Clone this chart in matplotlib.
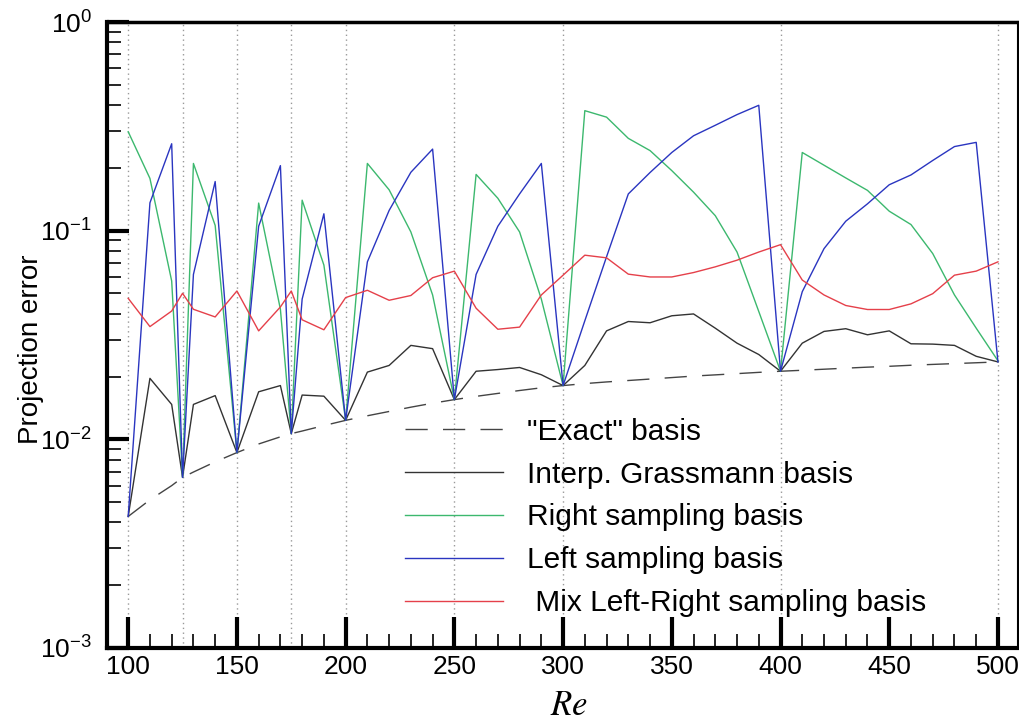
import numpy as np
import matplotlib
matplotlib.use('Agg')
import matplotlib.pyplot as plt
import matplotlib.ticker as ticker

plt.rcParams['font.family'] = ['Liberation Sans', 'DejaVu Sans']
plt.rcParams['mathtext.fontset'] = 'stix'
plt.rcParams['mathtext.default'] = 'regular'

# Reynolds numbers (sampled at 100,125,150,175,200,250,300,400,500)
re = [100, 110, 120, 125, 130, 140, 150, 160, 170, 175, 180, 190, 200,
      210, 220, 230, 240, 250, 260, 270, 280, 290, 300,
      310, 320, 330, 340, 350, 360, 370, 380, 390, 400,
      410, 420, 430, 440, 450, 460, 470, 480, 490, 500]
re_sampled = [100, 125, 150, 175, 200, 250, 300, 400, 500]

err_exact = [0.00427, 0.00513, 0.0060, 0.00657, 0.00697, 0.0078, 0.00864, 0.0095, 0.01028, 0.01065, 0.01096, 0.01164, 0.01233,
             0.01297, 0.0136, 0.01426, 0.0149, 0.0155, 0.01607, 0.0166, 0.01714, 0.01766, 0.0181,
             0.0185, 0.01884, 0.01914, 0.01945, 0.01977, 0.0201, 0.02037, 0.02065, 0.02094, 0.0212,
             0.02143, 0.02168, 0.02193, 0.02218, 0.02239, 0.02265, 0.02286, 0.02307, 0.02328, 0.0235]
err_grass = [0.00427, 0.0196, 0.0147, 0.00657, 0.0147, 0.0162, 0.00864, 0.0169, 0.0181, 0.01065, 0.0163, 0.0161, 0.01233,
             0.0210, 0.0226, 0.0282, 0.0272, 0.0155, 0.0212, 0.0216, 0.0221, 0.0204, 0.0181,
             0.0226, 0.0331, 0.0367, 0.0362, 0.0391, 0.0399, 0.0341, 0.0289, 0.0255, 0.0212,
             0.0289, 0.0329, 0.0339, 0.0317, 0.0331, 0.0287, 0.0286, 0.0282, 0.0250, 0.0235]
err_right = [0.298, 0.178, 0.0574, 0.00657, 0.210, 0.106, 0.00864, 0.1356, 0.042, 0.01065, 0.140, 0.0684, 0.01233,
             0.210, 0.157, 0.0986, 0.0492, 0.0155, 0.186, 0.143, 0.0986, 0.047, 0.0181,
             0.376, 0.350, 0.277, 0.242, 0.194, 0.153, 0.118, 0.079, 0.041, 0.0212,
             0.237, 0.206, 0.179, 0.156, 0.124, 0.107, 0.0777, 0.0492, 0.0341, 0.0238]
err_left = [0.00427, 0.136, 0.261, 0.00657, 0.0617, 0.172, 0.00864, 0.105, 0.205, 0.01065, 0.047, 0.1205, 0.01233,
            0.0709, 0.125, 0.1905, 0.246, 0.0155, 0.0617, 0.105, 0.150, 0.210, 0.0181,
            0.037, 0.075, 0.150, 0.19, 0.237, 0.285, 0.32, 0.36, 0.399, 0.0212,
            0.051, 0.082, 0.111, 0.1345, 0.166, 0.185, 0.217, 0.253, 0.265, 0.0235]
err_mix = [0.0474, 0.0347, 0.0412, 0.0501, 0.042, 0.0386, 0.0514, 0.0331, 0.0431, 0.0514, 0.0374, 0.0335, 0.0478,
           0.0518, 0.0464, 0.0489, 0.0595, 0.064, 0.0425, 0.0337, 0.0345, 0.0492, 0.0612,
           0.0763, 0.0741, 0.0619, 0.060, 0.060, 0.063, 0.0671, 0.0722, 0.079, 0.0857,
           0.058, 0.0492, 0.0438, 0.0419, 0.0419, 0.0446, 0.0499, 0.0612, 0.064, 0.0709]

fig = plt.figure(figsize=(10.2, 7.22), dpi=100)
ax = fig.add_axes([0.105, 0.1025, 0.893, 0.867])

#dotted lines at the sampled Re
for r in re_sampled:
    ax.axvline(r, color='#999999', lw=1.0, ls=(0, (1, 2.5)), zorder=0)

ax.plot(re, err_exact, color='#444444', lw=1.0, dashes=(16, 11), label='"Exact" basis')
ax.plot(re, err_grass, color='#333333', lw=1.0, label='Interp. Grassmann basis')
ax.plot(re, err_right, color='#3cb86e', lw=1.0, label='Right sampling basis')
ax.plot(re, err_left, color='#2a35c0', lw=1.0, label='Left sampling basis')
ax.plot(re, err_mix, color='#e5404a', lw=1.0, label=' Mix Left-Right sampling basis')

ax.set_yscale('log')
ax.set_ylim(1e-3, 1e0)
ax.set_xlim(90.3, 509.2)

ax.xaxis.set_major_locator(ticker.MultipleLocator(50))
ax.xaxis.set_minor_locator(ticker.MultipleLocator(10))
ax.yaxis.set_major_locator(ticker.LogLocator(base=10, numticks=10))
ax.yaxis.set_minor_locator(ticker.LogLocator(base=10, subs=np.arange(2, 10), numticks=10))
ax.yaxis.set_minor_formatter(ticker.NullFormatter())

ax.tick_params(axis='both', which='both', direction='in', top=False, right=False, labelsize=19)
ax.tick_params(axis='x', which='major', length=22, width=3, pad=5)
ax.tick_params(axis='x', which='minor', length=10, width=1.2)
ax.tick_params(axis='y', which='major', length=16, width=3, pad=11)
ax.tick_params(axis='y', which='minor', length=10, width=1.2)

ax.spines['left'].set_linewidth(3)
ax.spines['bottom'].set_linewidth(3)
ax.spines['top'].set_linewidth(2.5)
ax.spines['right'].set_linewidth(1.5)

ax.set_xlabel(r'$\mathit{Re}$', fontsize=25, va='center')
ax.xaxis.set_label_coords(0.507, -0.092)
ax.set_ylabel('Projection error', fontsize=20, va='center')
ax.yaxis.set_label_coords(-0.084, 0.478)

ax.legend(loc='upper left', bbox_to_anchor=(0.327, 0.368), frameon=False, fontsize=21.5,
          handlelength=3.3, handletextpad=0.8, labelspacing=0.5, borderpad=0, borderaxespad=0)

plt.savefig('out.png', dpi=100)
